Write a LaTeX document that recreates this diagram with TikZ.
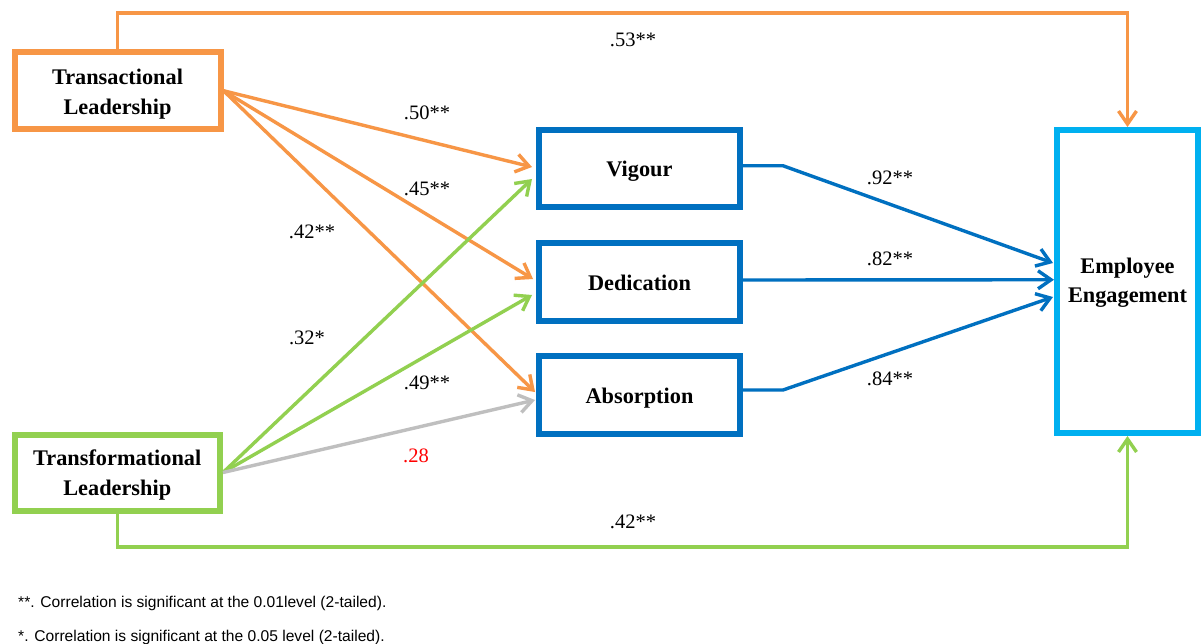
\documentclass[tikz,border=0pt]{standalone}
\usepackage{fontspec}
\setmainfont{Liberation Serif}
\newfontfamily\footfont{Liberation Sans}
\usetikzlibrary{arrows.meta,calc}
\definecolor{orng}{RGB}{247,150,70}
\definecolor{grn}{RGB}{146,208,80}
\definecolor{blu}{RGB}{0,112,192}
\definecolor{cyn}{RGB}{0,176,240}
\definecolor{gry}{RGB}{191,191,191}
\definecolor{rd}{RGB}{255,0,0}
\begin{document}
\begin{tikzpicture}[x=1pt,y=-1pt,
  box/.style={draw, line width=6pt, fill=white, inner sep=0pt},
  boxtext/.style={inner sep=0pt, anchor=base, font=\fontsize{22.3}{28}\selectfont\bfseries},
  conn/.style={line width=3.4pt, -{Straight Barb[length=13pt,width=18pt]}},
  lbl/.style={font=\fontsize{20.5}{22}\selectfont, inner sep=0pt, anchor=center},
  foot/.style={font=\footfont\fontsize{15.6}{17}\selectfont, inner sep=0pt, anchor=base west}]
\useasboundingbox (0,0) rectangle (1201,644);
\fill[white] (0,0) rectangle (1201,644);

% boxes
\node[box, draw=orng, minimum width=206pt, minimum height=77.5pt] (ta) at (117.5,90.75) {};
\node[box, draw=grn, minimum width=205.5pt, minimum height=76pt] (tf) at (117.25,472.5) {};
\node[box, draw=blu, minimum width=201pt, minimum height=77.5pt] (vig) at (639.5,168.75) {};
\node[box, draw=blu, minimum width=201pt, minimum height=77.5pt] (ded) at (639.5,281.75) {};
\node[box, draw=blu, minimum width=201pt, minimum height=77.5pt] (abs) at (639.5,394.75) {};
\node[box, draw=cyn, minimum width=141pt, minimum height=303pt] (ee) at (1127.5,281.5) {};

% box texts
\node[boxtext] (ta1) at ($(ta.center)+(0,-6.5)$) {Transactional};
\node[boxtext] (ta2) at ($(ta.center)+(0,24.2)$) {Leadership};
\node[boxtext] (tf1) at ($(tf.center)+(0,-7.5)$) {Transformational};
\node[boxtext] (tf2) at ($(tf.center)+(0,23)$) {Leadership};
\node[boxtext] (vigt) at ($(vig.center)+(0,8)$) {Vigour};
\node[boxtext] (dedt) at ($(ded.center)+(0,8.25)$) {Dedication};
\node[boxtext] (abst) at ($(abs.center)+(0,8.5)$) {Absorption};
\node[boxtext] (ee1) at ($(ee.center)+(0,-8.2)$) {Employee};
\node[boxtext] (ee2) at ($(ee.center)+(0,21.2)$) {Engagement};

% helper coordinates
\coordinate (topy) at (0,13);
\coordinate (boty) at (0,547);
\coordinate (vb) at (783,165.75);
\coordinate (ab) at (783,390);

% direct paths to engagement
\draw[orng, conn] (ta.north) |- (ee.north |- topy) -- (ee.north);
\draw[grn, conn] (tf.south) |- (ee.south |- boty) -- (ee.south);

% transactional -> dimensions
\draw[orng, conn] (ta.east) -- ($(vig.west)+(-4,-1.75)$);
\draw[orng, conn] (ta.east) -- ($(ded.west)+(-3,-2.75)$);
\draw[orng, conn] (ta.east) -- ($(abs.west)+(-1,-2.75)$);

% transformational -> dimensions
\draw[grn, conn] (tf.east) -- ($(vig.west)+(-4,10.25)$);
\draw[grn, conn] (tf.east) -- ($(ded.west)+(-4,13.25)$);
\draw[gry, conn] (tf.east) -- ($(abs.west)+(-1,5.25)$);

% dimensions -> engagement
\draw[blu, conn] ($(vig.east)+(0,-3)$) -- (vb) -- ($(ee.west)+(-1,-18.5)$);
\draw[blu, conn] ($(ded.east)+(0,-1.75)$) -- ($(ee.west)+(0,-1.75)$);
\draw[blu, conn] ($(abs.east)+(0,-4.75)$) -- (ab) -- ($(ee.west)+(-1,15.5)$);

% labels
\node[lbl] (l53) at (633,40) {.53**};
\node[lbl] (l50) at (427,113) {.50**};
\node[lbl] (l45) at (427,189) {.45**};
\node[lbl] (l42a) at (312,232) {.42**};
\node[lbl] (l32) at (307,338) {.32*};
\node[lbl] (l49) at (427,383) {.49**};
\node[lbl, text=rd] (l28) at (416,456) {.28};
\node[lbl] (l42b) at (633,522) {.42**};
\node[lbl] (l92) at (890,178) {.92**};
\node[lbl] (l82) at (890,259) {.82**};
\node[lbl] (l84) at (890,379) {.84**};

% footnotes
\node[foot] (f1) at (18,607) {**. Correlation is significant at the 0.01level (2-tailed).};
\node[foot] (f2) at (18,641) {*. Correlation is significant at the 0.05 level (2-tailed).};
\end{tikzpicture}
\end{document}
